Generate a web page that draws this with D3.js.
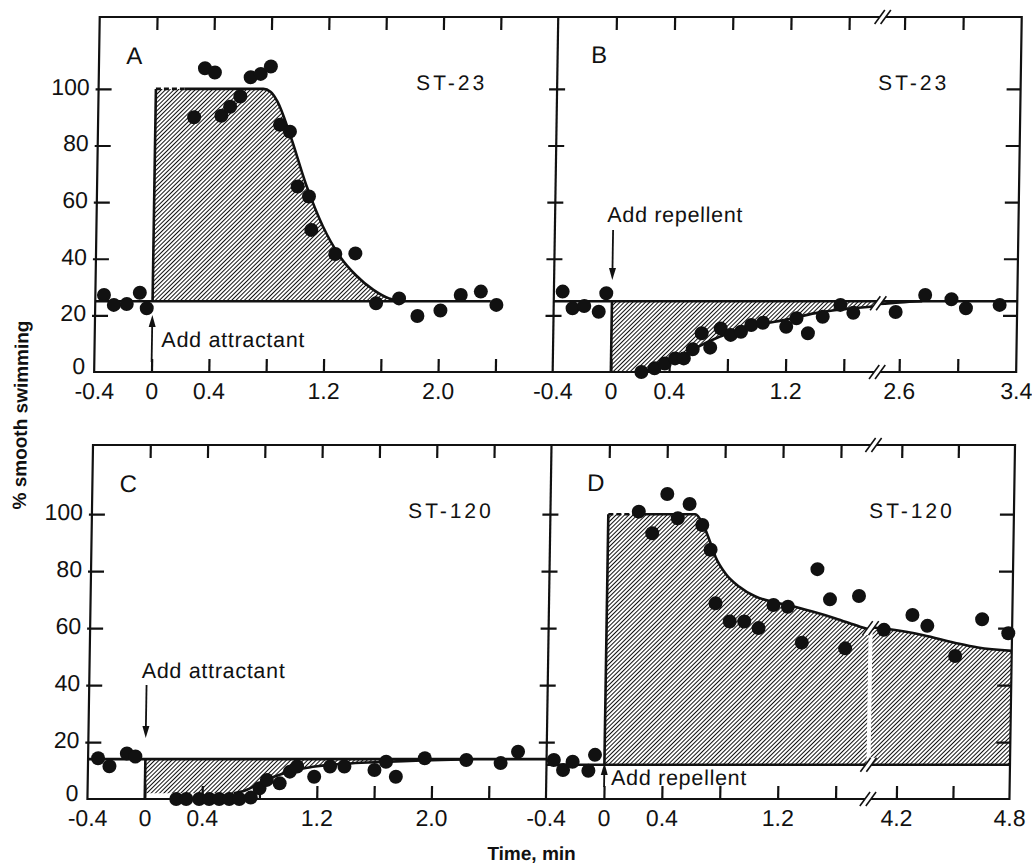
<!DOCTYPE html>
<html>
<head>
<meta charset="utf-8">
<script src="https://cdn.jsdelivr.net/npm/d3@7"></script>
<style>
  body { margin: 0; background: #fff; }
  svg { display: block; }
  text { font-family: "Liberation Sans", Arial, sans-serif; fill: #111; }
</style>
</head>
<body>
<svg width="1032" height="863"></svg>
<script>
// ---- values: [time (min), % smooth swimming] ----
const dotsA = [[-0.34,27.2],[-0.27,23.7],[-0.18,24],[-0.09,28],[-0.04,22.5],
  [0.27,90],[0.34,107.3],[0.41,105.8],[0.46,90.5],[0.52,93.7],[0.59,97.3],[0.66,104.1],[0.73,105.3],[0.80,107.9],
  [0.87,87.3],[0.94,84.9],[1.0,65.5],[1.08,62],[1.10,50.2],[1.27,41.7],[1.41,41.9],[1.56,24.3],[1.72,26],
  [1.85,19.8],[2.01,21.7],[2.15,27.2],[2.29,28.4],[2.40,23.7]];
const fitA = [[0,100],[0.2,100],[0.75,100],[0.8,99],[0.85,95.5],[0.94,84],[1.06,66],[1.18,51.5],
  [1.30,41],[1.42,34],[1.54,29],[1.65,26],[1.76,25]];
const baseA = 25;

const dotsB = [[-0.34,28.4],[-0.27,22.5],[-0.19,23.3],[-0.09,21.3],[-0.04,27.8],
  [0.21,0],[0.30,1.3],[0.37,3],[0.44,4.8],[0.50,4.8],[0.56,8],[0.62,13.7],[0.68,8.6],[0.75,15.4],[0.82,13.1],
  [0.89,14.2],[0.96,16.6],[1.04,17.4],[1.20,16],[1.27,19],[1.35,13.7],[1.45,19.5],[1.57,23.7],[1.66,20.9],
  [2.57,21.2],[2.77,27.2],[2.95,25.7],[3.05,22.5],[3.28,23.7]];
const fitB1 = [[0,0],[0.2,0],[0.3,1.5],[0.4,3.5],[0.5,6],[0.6,9],[0.7,11.5],[0.8,13.5],[0.9,15],
  [1.0,16.5],[1.2,18.5],[1.4,20.8],[1.6,22.2],[1.83,23.3]];
const fitB2 = [[2.45,24],[2.6,24.6],[2.75,25]];
const baseB = 25;

const dotsC = [[-0.33,14.3],[-0.25,11.5],[-0.13,16],[-0.07,14.9],
  [0.22,0],[0.29,0],[0.38,0],[0.45,0],[0.52,0],[0.59,0],[0.66,0],[0.74,0.5],
  [0.80,3.8],[0.85,6.7],[0.94,5.5],[1.01,9.6],[1.06,11.4],[1.18,7.8],[1.29,11.4],[1.39,11.4],
  [1.60,10.2],[1.68,13.1],[1.75,7.8],[1.95,14.3],[2.24,13.7],[2.48,12.6],[2.60,16.6]];
const fitC = [[0,2],[0.62,2],[0.7,3],[0.8,5.5],[0.9,7.8],[1.0,9.5],[1.1,10.7],[1.2,11.5],
  [1.4,12.4],[1.6,12.9],[1.8,13.3],[2.0,13.6],[2.2,13.9]];
const baseC = 14;

const dotsD = [[-0.35,13.7],[-0.285,10.2],[-0.22,13.1],[-0.11,9.9],[-0.066,15.5],
  [0.21,100.9],[0.305,93.3],[0.405,107.1],[0.48,98.6],[0.56,103.6],[0.65,96.2],[0.71,87.5],[0.75,68.7],
  [0.85,62.3],[0.95,62.3],[1.05,60],[1.15,68.1],[1.25,67.5],[1.35,54.9],[1.45,80.7],[1.54,70.1],
  [1.65,52.9],[1.74,71.3],
  [4.12,59.4],[4.27,64.6],[4.35,60.8],[4.5,50.2],[4.64,63.1],[4.78,58.2]];
const fitD1 = [[0,100],[0.17,100],[0.6,100],[0.65,97],[0.70,91],[0.745,85],[0.815,79.2],[0.91,74.6],
  [1.025,71.1],[1.14,69.3],[1.255,68],[1.42,65.8],[1.58,63.4],[1.75,60.5],[1.81,59.6]];
const fitD2 = [[4.06,60.2],[4.16,59.5],[4.33,57.5],[4.5,54.8],[4.62,53.2],[4.8,52]];
const baseD = 12;

// tick values and labels
const ticksAC = [0, 0.4, 0.8, 1.2, 1.6, 2.0, 2.4];
const labelsAC = [-0.4, 0, 0.4, 1.2, 2.0];
const ticksB = [0, 0.4, 0.8, 1.2, 1.6, 2.6, 3.0];
const labelsB = [-0.4, 0, 0.4, 1.2, 2.6, 3.4];
const ticksD = [0, 0.4, 0.8, 1.2, 1.6, 4.2, 4.5];
const labelsD = [-0.4, 0, 0.4, 1.2, 4.2, 4.8];
const yTicks = [20, 40, 60, 80, 100];
const yLabels = [0, 20, 40, 60, 80, 100];

// ---- layout ----
const L = 100, M = 558.5, R = 1022;
const INK = "#111";

const svg = d3.select("svg");
// the scanned figure is slightly sheared, tops lean right
const root = svg.append("g").attr("transform", "skewX(-0.9)");

svg.append("defs").append("pattern")
  .attr("id", "hatch").attr("patternUnits", "userSpaceOnUse")
  .attr("width", 3).attr("height", 3)
  .attr("patternTransform", "rotate(45)")
  .append("line")
  .attr("x1", 1.5).attr("x2", 1.5).attr("y1", 0).attr("y2", 3)
  .attr("stroke", INK).attr("stroke-width", 1);

const yTop = d3.scaleLinear().domain([0, 125.4]).range([372, 17]);
const yBot = d3.scaleLinear().domain([0, 124.3]).range([799, 445]);
const xA = d3.scaleLinear().domain([-0.4, 2.8]).range([L, M]);
const xB = d3.scaleLinear().domain([-0.4, 1.83, 2.45, 3.4]).range([M, 883, 883, R]);
const xC = xA;
const xD = d3.scaleLinear().domain([-0.4, 1.81, 4.06, 4.8]).range([M, 878.5, 882.5, R]);

const fmt = d => d === 0 ? "0" : d.toFixed(1);

function clean(sel) {
  sel.select(".domain").remove();
  sel.selectAll(".tick line").attr("stroke", INK).attr("stroke-width", 2.2);
  sel.attr("font-size", 23);
}

function drawPanel(p) {
  const g = root.append("g");
  const x = p.x, y = p.y;

  // hatched area between fit and pre-stimulus level
  p.segs.forEach(seg => {
    g.append("path").datum(seg)
      .attr("d", d3.area().x(d => x(d[0])).y0(y(p.base)).y1(d => y(d[1])).curve(d3.curveMonotoneX))
      .attr("fill", "url(#hatch)");
  });

  g.append("line")
    .attr("x1", x(-0.4)).attr("x2", x(p.baseTo))
    .attr("y1", y(p.base)).attr("y2", y(p.base))
    .attr("stroke", INK).attr("stroke-width", 2.6);

  g.append("line")
    .attr("x1", x(0)).attr("x2", x(0))
    .attr("y1", y(p.base)).attr("y2", y(p.stepTo))
    .attr("stroke", INK).attr("stroke-width", 2.6);

  if (p.dashTo) {
    g.append("line")
      .attr("x1", x(0)).attr("x2", x(p.dashTo))
      .attr("y1", y(p.stepTo)).attr("y2", y(p.stepTo))
      .attr("stroke", INK).attr("stroke-width", 2.6)
      .attr("stroke-dasharray", "5,3");
  }

  p.segs.forEach((seg, i) => {
    const pts = i === 0 ? seg.filter(d => d[0] >= p.lineFrom) : seg;
    g.append("path").datum(pts)
      .attr("d", d3.line().x(d => x(d[0])).y(d => y(d[1])).curve(d3.curveMonotoneX))
      .attr("fill", "none").attr("stroke", INK).attr("stroke-width", 2.6);
  });

  // x ticks, top and bottom, pointing in
  g.append("g").attr("transform", `translate(0,${p.bottom})`)
    .call(d3.axisBottom(x).tickValues(p.ticks).tickSize(-13).tickFormat(""))
    .call(clean);
  g.append("g").attr("transform", `translate(0,${p.top})`)
    .call(d3.axisTop(x).tickValues(p.ticks).tickSize(-13).tickFormat(""))
    .call(clean);
  g.append("g").attr("transform", `translate(0,${p.bottom})`)
    .call(d3.axisBottom(x).tickValues(p.labels).tickSize(0).tickPadding(11).tickFormat(fmt))
    .call(clean);

  g.selectAll("circle.pt").data(p.dots).join("circle")
    .attr("class", "pt")
    .attr("cx", d => x(d[0])).attr("cy", d => y(d[1]))
    .attr("r", 7).attr("fill", INK);

  // panel letter, strain, stimulus note
  g.append("text").attr("x", x(p.letterAt)).attr("y", p.top + p.letterDy)
    .attr("font-size", 24).text(p.letter);
  g.append("text").attr("x", p.strainX).attr("y", p.top + 73)
    .attr("font-size", 21).attr("letter-spacing", 3).attr("text-anchor", "middle")
    .text(p.strain);
  g.append("text").attr("x", x(0) + p.noteDx).attr("y", p.noteY)
    .attr("font-size", 21.5).attr("letter-spacing", 0.7).text(p.note);
  arrow(g, x(0), p.arrowFrom, p.arrowTip);
  return g;
}

function arrow(g, x, yFrom, yTip) {
  const dir = yTip > yFrom ? 1 : -1;
  g.append("line").attr("x1", x).attr("x2", x)
    .attr("y1", yFrom).attr("y2", yTip - dir * 8)
    .attr("stroke", INK).attr("stroke-width", 1.8);
  g.append("path")
    .attr("d", `M${x},${yTip}L${x - 3.5},${yTip - dir * 12}L${x + 3.5},${yTip - dir * 12}Z`)
    .attr("fill", INK);
}

// axis break "//"
function brk(px, py) {
  const g = root.append("g");
  g.append("path")
    .attr("d", `M${px - 8},${py + 7}L${px + 2},${py - 7}L${px + 8},${py - 7}L${px - 2},${py + 7}Z`)
    .attr("fill", "#fff");
  [-3, 3].forEach(o => {
    g.append("line")
      .attr("x1", px + o - 5).attr("y1", py + 7)
      .attr("x2", px + o + 5).attr("y2", py - 7)
      .attr("stroke", INK).attr("stroke-width", 1.6);
  });
}

function drawRow(y, top, bottom) {
  const g = root.append("g");
  g.append("rect").attr("x", L).attr("y", top).attr("width", R - L).attr("height", bottom - top)
    .attr("fill", "none").attr("stroke", INK).attr("stroke-width", 2.2);
  g.append("line").attr("x1", M).attr("x2", M).attr("y1", top).attr("y2", bottom)
    .attr("stroke", INK).attr("stroke-width", 2.2);
  g.append("g").attr("transform", `translate(${L - 3},0)`)
    .call(d3.axisRight(y).tickValues(yTicks).tickSize(16).tickFormat("")).call(clean);
  g.append("g").attr("transform", `translate(${M - 8},0)`)
    .call(d3.axisRight(y).tickValues(yTicks).tickSize(16).tickFormat("")).call(clean);
  g.append("g").attr("transform", `translate(${R},0)`)
    .call(d3.axisLeft(y).tickValues(yTicks).tickSize(14).tickFormat("")).call(clean);
  const lab = g.append("g").attr("transform", `translate(${L},-2)`)
    .call(d3.axisLeft(y).tickValues(yLabels).tickSize(0).tickPadding(9)).call(clean);
  // the "0" sits tucked into the corner, a little higher
  lab.selectAll(".tick").filter(d => d === 0).select("text").attr("y", -4);
}

drawRow(yTop, 17, 372);
drawRow(yBot, 445, 799);

drawPanel({x: xA, y: yTop, top: 17, bottom: 372, dots: dotsA, segs: [fitA], base: baseA,
  baseTo: 2.36, stepTo: 100, dashTo: 0.2, lineFrom: 0.2, ticks: ticksAC, labels: labelsAC,
  letter: "A", letterAt: -0.21, letterDy: 47, strain: "ST-23", strainX: 453,
  note: "Add attractant", noteDx: 9.5, noteY: 347, arrowFrom: 362, arrowTip: 315});

drawPanel({x: xB, y: yTop, top: 17, bottom: 372, dots: dotsB, segs: [fitB1, fitB2], base: baseB,
  baseTo: 3.4, stepTo: 0, lineFrom: 0.2, ticks: ticksB, labels: labelsB,
  letter: "B", letterAt: -0.17, letterDy: 46, strain: "ST-23", strainX: 915,
  note: "Add repellent", noteDx: -6, noteY: 222, arrowFrom: 230, arrowTip: 280});

drawPanel({x: xC, y: yBot, top: 445, bottom: 799, dots: dotsC, segs: [fitC], base: baseC,
  baseTo: 2.8, stepTo: 0, lineFrom: 0.62, ticks: ticksAC, labels: labelsAC,
  letter: "C", letterAt: -0.21, letterDy: 47, strain: "ST-120", strainX: 459,
  note: "Add attractant", noteDx: -5, noteY: 678, arrowFrom: 685, arrowTip: 738});

drawPanel({x: xD, y: yBot, top: 445, bottom: 799, dots: dotsD, segs: [fitD1, fitD2], base: baseD,
  baseTo: 4.8, stepTo: 100, dashTo: 0.17, lineFrom: 0.17, ticks: ticksD, labels: labelsD,
  letter: "D", letterAt: -0.15, letterDy: 46, strain: "ST-120", strainX: 920,
  note: "Add repellent", noteDx: 7, noteY: 785, arrowFrom: 787, arrowTip: 763});

// breaks in the time axis of B and D
brk(883, 17); brk(883, 372); brk(883, yTop(24.3));
brk(880.5, 445); brk(880.5, 799); brk(880.5, yBot(60)); brk(880.5, yBot(baseD));

// axis titles
root.append("text")
  .attr("transform", "translate(27,415) rotate(-90)")
  .attr("text-anchor", "middle").attr("dy", "0.35em")
  .attr("font-size", 19).attr("font-weight", "bold")
  .text("% smooth swimming");
root.append("text")
  .attr("x", 545).attr("y", 860).attr("text-anchor", "middle")
  .attr("font-size", 19).attr("font-weight", "bold")
  .text("Time, min");
</script>
</body>
</html>
